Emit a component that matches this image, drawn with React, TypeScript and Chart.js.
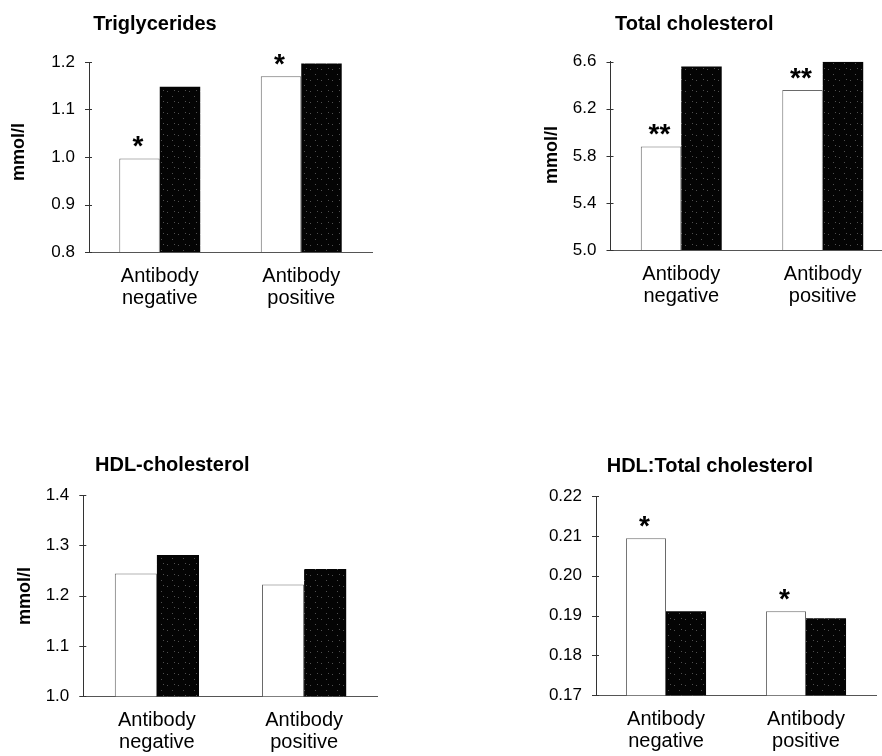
import React, { useEffect, useRef } from 'react';
import { Chart, registerables } from 'chart.js';
Chart.register(...registerables);

const FONT = "'Liberation Sans', Arial, Helvetica, sans-serif";

// ---- data ----
const categories = [['Antibody', 'negative'], ['Antibody', 'positive']];
const seriesNames = ['Group 1', 'Group 2'];

const trigWhite = [0.997, 1.17];
const trigDark = [1.148, 1.197];
const trigStars = ['*', '*'];
const trigTicks = [0.8, 0.9, 1.0, 1.1, 1.2];
const trigTickLabels = ['0.8', '0.9', '1.0', '1.1', '1.2'];

const tcWhite = [5.88, 6.36];
const tcDark = [6.56, 6.6];
const tcStars = ['**', '**'];
const tcTicks = [5.0, 5.4, 5.8, 6.2, 6.6];
const tcTickLabels = ['5.0', '5.4', '5.8', '6.2', '6.6'];

const hdlWhite = [1.244, 1.222];
const hdlDark = [1.281, 1.253];
const hdlStars = ['', ''];
const hdlTicks = [1.0, 1.1, 1.2, 1.3, 1.4];
const hdlTickLabels = ['1.0', '1.1', '1.2', '1.3', '1.4'];

const ratioWhite = [0.2094, 0.1911];
const ratioDark = [0.1911, 0.1893];
const ratioStars = ['*', '*'];
const ratioTicks = [0.17, 0.18, 0.19, 0.2, 0.21, 0.22];
const ratioTickLabels = ['0.17', '0.18', '0.19', '0.20', '0.21', '0.22'];

const titles = ['Triglycerides', 'Total cholesterol', 'HDL-cholesterol', 'HDL:Total cholesterol'];
const yTitle = 'mmol/l';

// ---- layout (positions / sizes) ----
const panels = [
  {
    title: titles[0], white: trigWhite, dark: trigDark, stars: trigStars, ticks: trigTicks, tickLabels: trigTickLabels,
    box: { x: 0, y: 0, w: 441, h: 320 }, area: { l: 89, t: 62, r: 372, b: 252 },
    titlePos: { x: 93.3, y: 30 }, yLabel: { x: 19.5, y: 152 },
  },
  {
    title: titles[1], white: tcWhite, dark: tcDark, stars: tcStars, ticks: tcTicks, tickLabels: tcTickLabels,
    box: { x: 441, y: 0, w: 470, h: 320 }, area: { l: 610.5, t: 61.7, r: 893.5, b: 250 },
    titlePos: { x: 615, y: 30 }, yLabel: { x: 552, y: 155 },
  },
  {
    title: titles[2], white: hdlWhite, dark: hdlDark, stars: hdlStars, ticks: hdlTicks, tickLabels: hdlTickLabels,
    box: { x: 0, y: 330, w: 441, h: 426 }, area: { l: 83.3, t: 495, r: 377.7, b: 696.3 },
    titlePos: { x: 95, y: 471 }, yLabel: { x: 25, y: 596 },
  },
  {
    title: titles[3], white: ratioWhite, dark: ratioDark, stars: ratioStars, ticks: ratioTicks, tickLabels: ratioTickLabels,
    box: { x: 441, y: 330, w: 441, h: 426 }, area: { l: 596, t: 496, r: 876, b: 695.3 },
    titlePos: { x: 606.7, y: 472 }, yLabel: null,
  },
];

function makePattern(): CanvasPattern | string {
  const c = document.createElement('canvas');
  c.width = 11;
  c.height = 11;
  const g = c.getContext('2d');
  if (!g) return '#050505';
  g.fillStyle = '#040404';
  g.fillRect(0, 0, 11, 11);
  g.fillStyle = '#505050';
  const dots = [[2, 3], [7, 8], [9, 2]];
  dots.forEach(([x, y]) => g.fillRect(x, y, 1, 1));
  return g.createPattern(c, 'repeat') || '#050505';
}

const decoPlugin = {
  id: 'panelDeco',
  afterDraw(chart: any) {
    const o = chart.options.plugins.panelDeco;
    if (!o) return;
    const ctx = chart.ctx as CanvasRenderingContext2D;
    const { box } = o;
    const ys = chart.scales.y;
    const left = chart.chartArea.left;
    ctx.save();
    // tick marks crossing the y axis
    ctx.strokeStyle = '#333';
    ctx.lineWidth = 1;
    o.ticks.forEach((v: number) => {
      const py = Math.round(ys.getPixelForValue(v)) + 0.5;
      ctx.beginPath();
      ctx.moveTo(left - 4, py);
      ctx.lineTo(left + 3, py);
      ctx.stroke();
    });
    // title
    ctx.fillStyle = '#000';
    ctx.font = `bold 20px ${FONT}`;
    ctx.textAlign = 'left';
    ctx.textBaseline = 'alphabetic';
    ctx.fillText(o.title, o.titlePos.x - box.x, o.titlePos.y - box.y);
    // y axis label
    if (o.yLabel) {
      ctx.save();
      ctx.translate(o.yLabel.x - box.x, o.yLabel.y - box.y);
      ctx.rotate(-Math.PI / 2);
      ctx.font = `bold 18px ${FONT}`;
      ctx.textAlign = 'center';
      ctx.textBaseline = 'middle';
      ctx.fillText(yTitle, 0, 0);
      ctx.restore();
    }
    // significance stars above white bars
    const meta = chart.getDatasetMeta(0);
    ctx.font = `bold 28px ${FONT}`;
    ctx.textAlign = 'left';
    ctx.textBaseline = 'alphabetic';
    o.stars.forEach((s: string, i: number) => {
      if (!s) return;
      const bar = meta.data[i];
      const m = ctx.measureText(s);
      const cx = bar.x - 1.5;
      const cy = bar.y - 16.5;
      const x = cx + (m.actualBoundingBoxLeft - m.actualBoundingBoxRight) / 2;
      const y = cy + (m.actualBoundingBoxAscent - m.actualBoundingBoxDescent) / 2;
      ctx.fillText(s, x, y);
    });
    ctx.restore();
  },
};

function Panel({ p }: { p: any }) {
  const ref = useRef<HTMLCanvasElement>(null);
  useEffect(() => {
    const canvas = ref.current;
    if (!canvas) return;
    const { box, area } = p;
    const pattern = makePattern();
    const chart = new Chart(canvas, {
      type: 'bar',
      data: {
        labels: categories,
        datasets: [
          {
            label: seriesNames[0],
            data: p.white,
            backgroundColor: '#ffffff',
            borderColor: '#6a6a6a',
            borderWidth: 1,
            categoryPercentage: 0.572,
            barPercentage: 1.0,
          },
          {
            label: seriesNames[1],
            data: p.dark,
            backgroundColor: pattern as any,
            borderWidth: 0,
            categoryPercentage: 0.572,
            barPercentage: 1.0,
          },
        ],
      },
      options: {
        responsive: false,
        animation: false,
        devicePixelRatio: 1,
        layout: {
          padding: {
            left: 0,
            top: area.t - box.y,
            right: box.x + box.w - area.r,
            bottom: 0,
          },
        },
        plugins: {
          legend: { display: false },
          title: { display: false },
          tooltip: { enabled: false },
          panelDeco: { ...p },
        } as any,
        scales: {
          x: {
            grid: { display: false, drawTicks: false },
            border: { display: true, color: '#555', width: 1 },
            ticks: {
              color: '#000',
              font: { family: FONT, size: 20, lineHeight: 1.1 },
              padding: 13,
              maxRotation: 0,
              autoSkip: false,
            },
            afterFit: (s: any) => {
              s.height = box.y + box.h - area.b;
            },
          },
          y: {
            min: p.ticks[0],
            max: p.ticks[p.ticks.length - 1],
            grid: { display: false, drawTicks: false },
            border: { display: true, color: '#333', width: 1 },
            afterBuildTicks: (s: any) => {
              s.ticks = p.ticks.map((v: number) => ({ value: v }));
            },
            ticks: {
              color: '#000',
              font: { family: FONT, size: 17 },
              padding: 14,
              callback: (_v: any, i: number) => p.tickLabels[i],
            },
            afterFit: (s: any) => {
              s.width = area.l - box.x;
            },
          },
        },
      },
      plugins: [decoPlugin],
    });
    return () => chart.destroy();
  }, []);
  const { box } = p;
  return (
    <canvas
      ref={ref}
      width={box.w}
      height={box.h}
      style={{ position: 'absolute', left: box.x, top: box.y, width: box.w, height: box.h }}
    />
  );
}

export default function App() {
  return (
    <div
      style={{
        position: 'absolute',
        left: 0,
        top: 0,
        width: 882,
        height: 756,
        overflow: 'hidden',
        background: '#fff',
      }}
    >
      {panels.map((p, i) => (
        <Panel key={i} p={p} />
      ))}
    </div>
  );
}
